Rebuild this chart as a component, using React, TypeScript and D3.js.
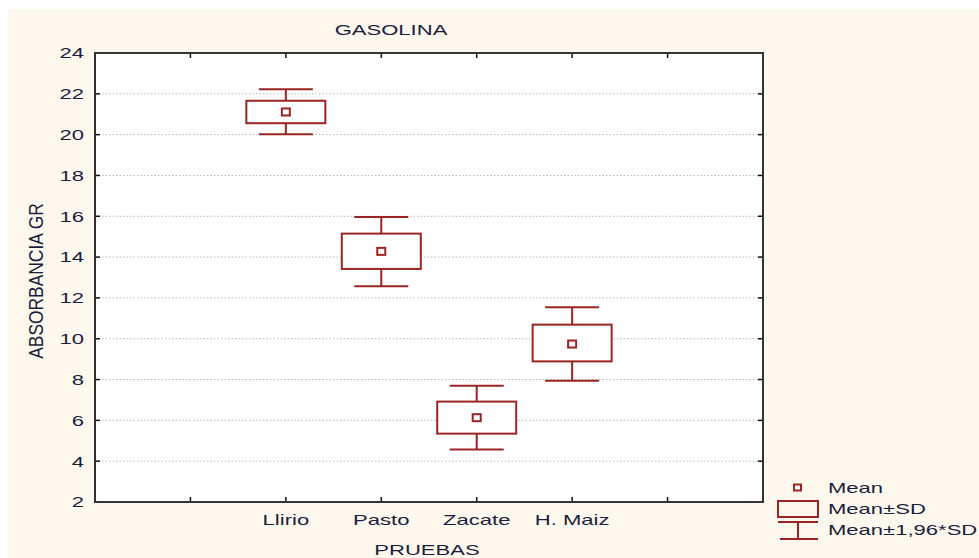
import React from "react";
import * as d3 from "d3";

const categories = ["Llirio", "Pasto", "Zacate", "H. Maiz"];
const categoryPos = [2, 3, 4, 5];
const means = [21.11, 14.28, 6.13, 9.74];
const sdLow = [20.56, 13.42, 5.35, 8.89];
const sdHigh = [21.66, 15.15, 6.92, 10.69];
const ciLow = [20.02, 12.57, 4.57, 7.94];
const ciHigh = [22.22, 15.97, 7.7, 11.54];
const yTicks = [2, 4, 6, 8, 10, 12, 14, 16, 18, 20, 22, 24];
const xTicks = [1, 2, 3, 4, 5, 6];
const legendLabels = ["Mean", "Mean±SD", "Mean±1,96*SD"];

const W = 979, H = 558;
const L = 95, R = 763, T = 53, B = 502;
const RED = "#9a2424";
const FONT = "'Liberation Sans', Arial, sans-serif";
const TXT = "#1c1c3c";
const FS = 15;
const SX = 1.47;

function T2({ x, y, anchor, children }: { x: number; y: number; anchor: string; children: React.ReactNode }) {
  return (
    <text transform={`translate(${x},${y}) scale(${SX},1)`} dy="0.36em" textAnchor={anchor}
      fontFamily={FONT} fontSize={FS} fill={TXT} stroke="none">{children}</text>
  );
}

export default function App() {
  const x = d3.scaleLinear().domain([0, 7]).range([L, R]);
  const y = d3.scaleLinear().domain([2, 24]).range([B, T]);
  const boxW = 79, capW = 54, mk = 8;
  return (
    <svg width={W} height={H} style={{ position: "absolute", left: 0, top: 0 }}>
      <rect x={0} y={0} width={W} height={H} fill="#ffffff" />
      <rect x={8} y={9} width={W - 8} height={H - 9} fill="#fdf8ee" />
      <rect x={L} y={T} width={R - L} height={B - T} fill="#ffffff" />
      {yTicks.filter(t => t > 2 && t < 24).map(t => (
        <line key={"g" + t} x1={L} x2={R} y1={y(t)} y2={y(t)} stroke="#b8b8b8" strokeWidth={1} strokeDasharray="1.5,2" />
      ))}
      {yTicks.map(t => (
        <g key={"yt" + t}>
          <line x1={L} x2={L + 5} y1={y(t)} y2={y(t)} stroke="#111" strokeWidth={1.5} />
          <line x1={R} x2={R - 5} y1={y(t)} y2={y(t)} stroke="#111" strokeWidth={1.5} />
          <T2 x={84} y={y(t)} anchor="end">{t}</T2>
        </g>
      ))}
      {xTicks.map(t => (
        <g key={"xt" + t}>
          <line x1={x(t)} x2={x(t)} y1={B} y2={B - 5} stroke="#111" strokeWidth={1.5} />
          <line x1={x(t)} x2={x(t)} y1={T} y2={T + 5} stroke="#111" strokeWidth={1.5} />
        </g>
      ))}
      <rect x={L} y={T} width={R - L} height={B - T} fill="none" stroke="#333" strokeWidth={2} />
      {categories.map((c, i) => {
        const cx = x(categoryPos[i]);
        return (
          <g key={c}>
            <g stroke={RED} strokeWidth={2} fill="none">
              <line x1={cx - capW / 2} x2={cx + capW / 2} y1={y(ciHigh[i])} y2={y(ciHigh[i])} />
              <line x1={cx - capW / 2} x2={cx + capW / 2} y1={y(ciLow[i])} y2={y(ciLow[i])} />
              <line x1={cx} x2={cx} y1={y(ciHigh[i])} y2={y(sdHigh[i])} />
              <line x1={cx} x2={cx} y1={y(sdLow[i])} y2={y(ciLow[i])} />
              <rect x={cx - boxW / 2} y={y(sdHigh[i])} width={boxW} height={y(sdLow[i]) - y(sdHigh[i])} fill="#fff" />
              <rect x={cx - mk / 2} y={y(means[i]) - mk / 2 + 0.5} width={mk} height={mk - 1} fill="#fff" />
            </g>
            <T2 x={cx} y={520} anchor="middle">{c}</T2>
          </g>
        );
      })}
      <T2 x={391} y={30} anchor="middle">GASOLINA</T2>
      <T2 x={427} y={550} anchor="middle">PRUEBAS</T2>
      <text transform={`translate(35,281) scale(1.4,1.16) rotate(-90)`} dy="0.36em" textAnchor="middle"
        fontFamily={FONT} fontSize={FS} fill={TXT}>ABSORBANCIA GR</text>
      <g stroke={RED} strokeWidth={2} fill="none">
        <rect x={794} y={484.5} width={7} height={6} fill="#fff" />
        <rect x={778} y={501} width={40} height={16} />
        <line x1={778} x2={818} y1={522} y2={522} />
        <line x1={798} x2={798} y1={522} y2={539} />
        <line x1={780} x2={818} y1={539} y2={539} />
      </g>
      {legendLabels.map((lab, i) => (
        <T2 key={lab} x={828} y={488 + i * 21} anchor="start">{lab}</T2>
      ))}
    </svg>
  );
}
